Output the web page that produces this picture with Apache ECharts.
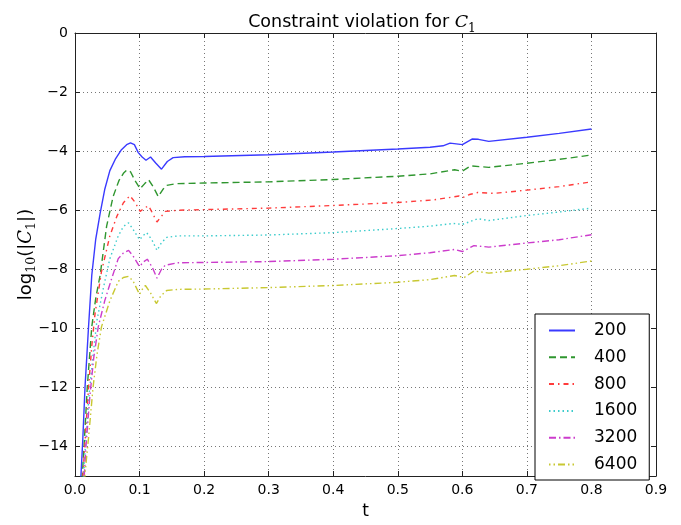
<!DOCTYPE html>
<html>
<head>
<meta charset="utf-8">
<script src="https://cdn.jsdelivr.net/npm/echarts@6/dist/echarts.min.js"></script>
<style>
  html, body { margin: 0; padding: 0; background: #fff; }
  #chart { width: 681px; height: 525px; }
</style>
</head>
<body>
<div id="chart"></div>
<script>
// resolutions shown in the legend
const names = ['200', '400', '800', '1600', '3200', '6400'];

// [t, log10|C1|]
const n200 = [[0.008,-15.5],[0.012,-13.8],[0.0155,-12],[0.021,-9.94],[0.026,-8.2],[0.032,-7.0],[0.039,-6.1],[0.046,-5.3],[0.054,-4.66],[0.063,-4.25],[0.072,-3.95],[0.080,-3.78],[0.086,-3.72],[0.092,-3.78],[0.098,-4.05],[0.104,-4.2],[0.110,-4.31],[0.117,-4.2],[0.125,-4.4],[0.134,-4.61],[0.143,-4.35],[0.152,-4.22],[0.17,-4.19],[0.2,-4.18],[0.3,-4.12],[0.4,-4.03],[0.5,-3.93],[0.55,-3.87],[0.57,-3.82],[0.581,-3.73],[0.6,-3.78],[0.615,-3.59],[0.625,-3.6],[0.641,-3.67],[0.7,-3.53],[0.75,-3.4],[0.8,-3.25]];
const n400 = [[0.010,-15.5],[0.014,-14],[0.019,-12],[0.026,-9.94],[0.032,-9.0],[0.039,-8.19],[0.049,-6.54],[0.059,-5.54],[0.068,-5.0],[0.075,-4.75],[0.080,-4.64],[0.086,-4.7],[0.093,-5.0],[0.101,-5.27],[0.108,-5.1],[0.114,-4.97],[0.121,-5.2],[0.129,-5.54],[0.136,-5.3],[0.142,-5.16],[0.157,-5.10],[0.2,-5.08],[0.3,-5.04],[0.4,-4.96],[0.5,-4.85],[0.55,-4.77],[0.588,-4.63],[0.6,-4.68],[0.613,-4.5],[0.641,-4.55],[0.7,-4.41],[0.75,-4.28],[0.8,-4.13]];
const n800 = [[0.011,-15.5],[0.015,-14],[0.021,-12],[0.026,-10.6],[0.031,-9.51],[0.041,-8.08],[0.054,-6.87],[0.065,-6.2],[0.075,-5.75],[0.085,-5.51],[0.092,-5.7],[0.101,-6.04],[0.108,-5.92],[0.114,-5.85],[0.120,-6.1],[0.127,-6.4],[0.134,-6.2],[0.140,-6.04],[0.16,-6.0],[0.2,-5.98],[0.3,-5.93],[0.4,-5.84],[0.5,-5.74],[0.556,-5.65],[0.595,-5.52],[0.601,-5.57],[0.611,-5.47],[0.624,-5.40],[0.649,-5.43],[0.7,-5.32],[0.75,-5.2],[0.8,-5.04]];
const n1600 = [[0.012,-15.5],[0.016,-14],[0.022,-12.2],[0.028,-10.9],[0.034,-9.73],[0.044,-8.63],[0.054,-7.64],[0.067,-6.87],[0.075,-6.55],[0.083,-6.43],[0.090,-6.65],[0.100,-7.0],[0.106,-6.85],[0.111,-6.76],[0.119,-7.0],[0.127,-7.36],[0.134,-7.1],[0.142,-6.92],[0.16,-6.87],[0.2,-6.87],[0.3,-6.84],[0.4,-6.76],[0.5,-6.62],[0.55,-6.54],[0.586,-6.45],[0.6,-6.48],[0.624,-6.29],[0.641,-6.35],[0.7,-6.18],[0.75,-6.06],[0.8,-5.93]];
const n3200 = [[0.013,-15.5],[0.017,-14],[0.023,-12.3],[0.029,-11],[0.036,-9.95],[0.046,-9.07],[0.057,-8.3],[0.067,-7.64],[0.075,-7.45],[0.083,-7.36],[0.090,-7.55],[0.100,-7.91],[0.106,-7.75],[0.112,-7.66],[0.120,-7.95],[0.127,-8.3],[0.134,-8.0],[0.140,-7.86],[0.16,-7.78],[0.2,-7.77],[0.3,-7.74],[0.4,-7.66],[0.5,-7.54],[0.55,-7.44],[0.588,-7.33],[0.6,-7.4],[0.618,-7.2],[0.641,-7.25],[0.7,-7.11],[0.75,-7.0],[0.8,-6.83]];
const n6400 = [[0.0145,-15.5],[0.0155,-14.92],[0.021,-13.7],[0.028,-11.99],[0.034,-10.9],[0.041,-9.95],[0.054,-9.07],[0.067,-8.41],[0.075,-8.28],[0.083,-8.24],[0.090,-8.4],[0.100,-8.85],[0.105,-8.65],[0.109,-8.55],[0.117,-8.8],[0.126,-9.16],[0.133,-8.9],[0.142,-8.72],[0.16,-8.68],[0.2,-8.67],[0.3,-8.62],[0.4,-8.55],[0.5,-8.44],[0.55,-8.35],[0.588,-8.21],[0.603,-8.28],[0.618,-8.06],[0.641,-8.13],[0.7,-8.0],[0.75,-7.88],[0.8,-7.72]];

const allData = [n200, n400, n800, n1600, n3200, n6400];
const colors = ['#3a3aff', '#2f962f', '#ff3b3b', '#3ccccc', '#cc3ccc', '#c8c832'];
const dashes = ['solid', [7, 4], [5, 4, 1.5, 4], [1.5, 3], [7, 3, 1.5, 3], [1.5, 3, 1.5, 3, 7, 3]];

const font = 'DejaVu Sans';
const chart = echarts.init(document.getElementById('chart'));

const axisLine = { show: true, onZero: false, lineStyle: { color: '#222', width: 1 } };
const tick = { show: true, inside: true, length: 5, lineStyle: { color: '#222' } };
const grid = { show: true, lineStyle: { color: '#777', type: [1, 3], width: 1 } };
const minus = v => String(v).replace('-', '\u2212');

// math-like rich styles: normal, italic, subscript
const mathRich = size => ({
  n: { fontFamily: font, fontSize: size, color: '#000', lineHeight: size + 6 },
  i: { fontFamily: 'DejaVu Serif', fontSize: size, fontStyle: 'italic', color: '#000', lineHeight: size + 6 },
  s: { fontFamily: 'DejaVu Serif', fontSize: size * 0.7, color: '#000', lineHeight: size * 0.7, verticalAlign: 'bottom' }
});

chart.setOption({
  animation: false,
  title: {
    text: '{n|Constraint violation for }{i|C}{s|1}',
    left: 357,
    top: 6,
    textAlign: 'center',
    textStyle: { fontFamily: font, fontSize: 17.5, fontWeight: 'normal', color: '#000', rich: mathRich(17.5) }
  },
  grid: { left: 75, right: 25, top: 33, bottom: 39 },
  legend: {
    data: names,
    orient: 'vertical',
    left: 535,
    top: 314,
    padding: [8, 12, 7, 13],
    itemWidth: 26,
    itemHeight: 14,
    itemGap: 9.8,
    backgroundColor: '#fff',
    borderColor: '#000',
    borderWidth: 1,
    borderRadius: 0,
    itemStyle: { opacity: 0 },
    textStyle: { fontFamily: font, fontSize: 17, lineHeight: 16, color: '#000', padding: [0, 0, 0, 14], width: 42 }
  },
  xAxis: [{
    type: 'value', min: 0, max: 0.9, interval: 0.1,
    name: 't', nameLocation: 'middle', nameGap: 27,
    nameTextStyle: { fontFamily: font, fontSize: 17, color: '#000' },
    axisLine: axisLine, axisTick: tick, splitLine: grid,
    axisLabel: { fontFamily: font, fontSize: 14, color: '#000', margin: 7, formatter: v => v.toFixed(1) }
  }, {
    type: 'value', min: 0, max: 0.9, interval: 0.1, position: 'top',
    axisLine: axisLine, axisTick: tick, splitLine: { show: false }, axisLabel: { show: false }
  }],
  yAxis: [{
    type: 'value', min: -15, max: 0, splitNumber: 7,
    name: '{n|log}{s|10}{n|(|}{i|C}{s|1}{n||)}', nameLocation: 'middle', nameGap: 37,
    nameMoveOverlap: false,
    nameTextStyle: { fontFamily: font, fontSize: 18, color: '#000', rich: mathRich(18) },
    axisLine: axisLine, axisTick: tick, splitLine: grid,
    axisLabel: { fontFamily: font, fontSize: 14, color: '#000', margin: 7, formatter: v => (v % 2 === 0 ? minus(v) : '') }
  }, {
    type: 'value', min: -15, max: 0, splitNumber: 7, position: 'right',
    axisLine: axisLine, axisTick: tick, splitLine: { show: false }, axisLabel: { show: false }
  }],
  series: names.map((n, i) => ({
    name: n,
    type: 'line',
    data: allData[i],
    symbol: 'none',
    smooth: false,
    clip: true,
    color: colors[i],
    lineStyle: { color: colors[i], width: 1.4, type: dashes[i] }
  }))
});
</script>
</body>
</html>
